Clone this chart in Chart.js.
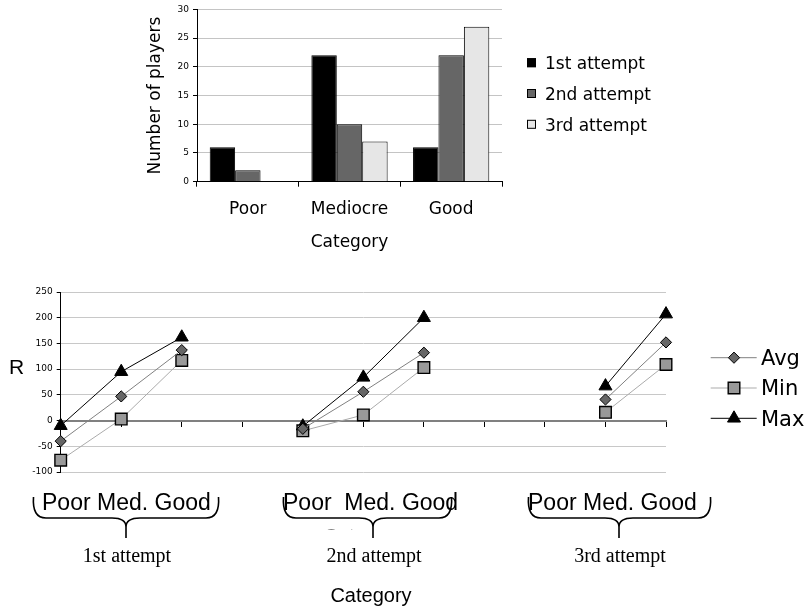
<!DOCTYPE html>
<html>
<head>
<meta charset="utf-8">
<title>Players per category and R by attempt</title>
<script src="https://cdn.jsdelivr.net/npm/chart.js@4.4.1/dist/chart.umd.min.js"></script>
<style>
  html, body { margin: 0; padding: 0; background: #fff; }
  #wrap { position: relative; width: 807px; height: 611px; overflow: hidden; }
  #wrap canvas { position: absolute; left: 0; top: 0; }
</style>
</head>
<body>
<div id="wrap">
  <canvas id="bars" width="807" height="611"></canvas>
  <canvas id="lines" width="807" height="611"></canvas>
</div>
<script>
// ── Data ─────────────────────────────────────────────────────
const barCategories = ["Poor", "Mediocre", "Good"];
const attemptNames = ["1st attempt", "2nd attempt", "3rd attempt"];
const players1st = [6, 22, 6];
const players2nd = [2, 10, 22];
const players3rd = [0, 7, 27];
const playerTicks = [0, 5, 10, 15, 20, 25, 30];

// R per category, grouped by attempt (empty slot between groups)
const rCategories = ["Poor", "Med.", "Good", "", "Poor", "Med.", "Good", "", "Poor", "Med.", "Good"];
const rAvg = [-40, 47, 137, null, -16, 56, 132, null, null, 41, 152];
const rMin = [-77, 3, 117, null, -20, 11, 103, null, null, 16, 109];
const rMax = [-10, 95, 162, null, -11, 84, 200, null, null, 67, 207];
const rTicks = [-100, -50, 0, 50, 100, 150, 200, 250];
const groupLabel = "Poor Med. Good";

const SANS = '"DejaVu Sans", sans-serif';
const ARIAL = '"Liberation Sans", Arial, sans-serif';
const SERIF = '"Liberation Serif", "Times New Roman", serif';

// ── Bar chart: number of players ─────────────────────────────
const barLegend = {
  id: "barLegend",
  afterDraw(chart) {
    const ctx = chart.ctx;
    ctx.save();
    ctx.font = "17px " + SANS;
    ctx.textBaseline = "alphabetic";
    chart.data.datasets.forEach((ds, i) => {
      const cy = 62.7 + i * 30.8;
      ctx.fillStyle = ds.backgroundColor;
      ctx.fillRect(527, cy - 4.5, 9, 9);
      ctx.strokeStyle = "#000";
      ctx.lineWidth = 1;
      ctx.strokeRect(527.5, cy - 4, 8, 8);
      ctx.fillStyle = "#000";
      ctx.fillText(ds.label, 545, cy + 6.3);
    });
    ctx.restore();
  },
};

new Chart(document.getElementById("bars"), {
  type: "bar",
  data: {
    labels: barCategories,
    datasets: [
      { label: attemptNames[0], data: players1st, backgroundColor: "#000000" },
      { label: attemptNames[1], data: players2nd, backgroundColor: "#666666" },
      { label: attemptNames[2], data: players3rd, backgroundColor: "#e6e6e6" },
    ].map((d) => ({ ...d, borderColor: "#000", borderWidth: 1, categoryPercentage: 0.75, barPercentage: 1 })),
  },
  options: {
    responsive: false,
    animation: false,
    events: [],
    layout: { padding: { left: 137, top: 9, right: 305, bottom: 351 } },
    plugins: { legend: { display: false }, tooltip: { enabled: false } },
    scales: {
      x: {
        afterFit: (s) => { s.height = 78.3; },
        grid: { drawOnChartArea: false, tickLength: 5, color: "#000", offset: true },
        border: { color: "#000", width: 1 },
        ticks: { color: "#000", font: { family: SANS, size: 17 }, padding: 12.6 },
        title: { display: true, text: "Category", color: "#000", font: { family: SANS, size: 17 }, padding: { top: 0, bottom: 7.3 } },
      },
      y: {
        min: 0,
        max: 30,
        afterBuildTicks: (s) => { s.ticks = playerTicks.map((v) => ({ value: v })); },
        afterFit: (s) => { s.width = 60; },
        grid: { color: "#c4c4c4", tickLength: 4, tickColor: "#000" },
        border: { color: "#000", width: 1 },
        ticks: { color: "#000", font: { family: SANS, size: 9 }, padding: 4 },
        title: { display: true, text: "Number of players", color: "#000", font: { family: SANS, size: 17 }, padding: { top: 8.8, bottom: 0 } },
      },
    },
  },
  plugins: [barLegend],
});

// ── Line chart: R by category and attempt ────────────────────
const lineLegend = {
  id: "lineLegend",
  afterDraw(chart) {
    const ctx = chart.ctx;
    const rows = [357.7, 388, 418.3];
    ctx.save();
    chart.data.datasets.forEach((ds, i) => {
      const cy = rows[i];
      ctx.strokeStyle = ds.borderColor;
      ctx.lineWidth = 1;
      ctx.beginPath();
      ctx.moveTo(710.7, cy);
      ctx.lineTo(756.7, cy);
      ctx.stroke();
      ctx.fillStyle = ds.pointBackgroundColor;
      ctx.strokeStyle = ds.pointBorderColor;
      ctx.lineWidth = ds.pointBorderWidth;
      Chart.helpers.drawPoint(ctx, { pointStyle: ds.pointStyle, radius: ds.pointRadius, borderWidth: ds.pointBorderWidth, rotation: 0 }, 734, cy);
      ctx.fillStyle = "#000";
      ctx.font = "21px " + SANS;
      ctx.textBaseline = "alphabetic";
      ctx.fillText(ds.label, 761, cy + 7.3);
    });
    // axis letter
    ctx.font = "21px " + ARIAL;
    ctx.textAlign = "center";
    ctx.fillText("R", 16.5, 374);
    ctx.restore();
  },
};

function brace(ctx, x1, x2, xc) {
  const yTop = 497, yMid = 518, yTip = 538;
  ctx.beginPath();
  ctx.moveTo(x1 + 1.5, yTop);
  ctx.quadraticCurveTo(x1, yMid, x1 + 14, yMid);
  ctx.lineTo(xc - 14, yMid);
  ctx.quadraticCurveTo(xc, yMid, xc, yMid + 9);
  ctx.lineTo(xc, yTip);
  ctx.moveTo(x2 - 1.5, yTop);
  ctx.quadraticCurveTo(x2, yMid, x2 - 14, yMid);
  ctx.lineTo(xc + 14, yMid);
  ctx.quadraticCurveTo(xc, yMid, xc, yMid + 9);
  ctx.stroke();
}

const groupBraces = {
  id: "groupBraces",
  afterDraw(chart) {
    const ctx = chart.ctx;
    const braces = [
      { x1: 32, x2: 220, xc: 126, tx: 42, text: groupLabel },
      { x1: 282, x2: 453, xc: 373, tx: 283, text: "Poor  Med. Good" },
      { x1: 527, x2: 712, xc: 619, tx: 528, text: groupLabel },
    ];
    ctx.save();
    // the axis title sits mostly hidden behind the attempt labels
    ctx.fillStyle = "#000";
    ctx.font = "20px " + ARIAL;
    ctx.textAlign = "center";
    ctx.textBaseline = "alphabetic";
    ctx.fillText("Category", 364, 542.5);
    ctx.fillStyle = "#fff";
    ctx.fillRect(300, 529.5, 140, 50);

    ctx.strokeStyle = "#000";
    ctx.lineWidth = 1.6;
    braces.forEach((b, i) => {
      brace(ctx, b.x1, b.x2, b.xc);
      ctx.fillStyle = "#000";
      ctx.font = "23px " + ARIAL;
      ctx.textAlign = "left";
      ctx.fillText(b.text, b.tx, 510);
      ctx.font = "20px " + SERIF;
      ctx.textAlign = "center";
      ctx.fillText(attemptNames[i], b.xc + 1, 562);
    });
    ctx.font = "20px " + ARIAL;
    ctx.fillText("Category", 371, 602);
    ctx.restore();
  },
};

new Chart(document.getElementById("lines"), {
  type: "line",
  data: {
    labels: rCategories,
    datasets: [
      { label: "Avg", data: rAvg, borderColor: "#808080", pointStyle: "rectRot", pointRadius: 5.6, pointBackgroundColor: "#666666", pointBorderColor: "#000", pointBorderWidth: 1 },
      { label: "Min", data: rMin, borderColor: "#ababab", pointStyle: "rect", pointRadius: 8.2, pointBackgroundColor: "#999999", pointBorderColor: "#000", pointBorderWidth: 1.4 },
      { label: "Max", data: rMax, borderColor: "#000000", pointStyle: "triangle", pointRadius: 7.5, pointBackgroundColor: "#000000", pointBorderColor: "#000", pointBorderWidth: 1 },
    ].map((d) => ({ ...d, borderWidth: 1, fill: false, tension: 0, spanGaps: false })),
  },
  options: {
    responsive: false,
    animation: false,
    events: [],
    layout: { padding: { left: 0, top: 292, right: 141, bottom: 139 } },
    plugins: { legend: { display: false }, tooltip: { enabled: false } },
    scales: {
      x: {
        position: { y: 0 },
        offset: false,
        grid: { drawOnChartArea: false, tickLength: 5, tickColor: "#000" },
        border: { color: "#808080", width: 2 },
        ticks: { display: false },
      },
      y: {
        min: -100,
        max: 250,
        afterBuildTicks: (s) => { s.ticks = rTicks.map((v) => ({ value: v })); },
        afterFit: (s) => { s.width = 60.7; },
        grid: { color: "#c8c8c8", tickLength: 4, tickColor: "#000" },
        border: { color: "#000", width: 1 },
        ticks: { color: "#000", font: { family: SANS, size: 9 }, padding: 4 },
      },
    },
  },
  plugins: [lineLegend, groupBraces],
});
</script>
</body>
</html>
